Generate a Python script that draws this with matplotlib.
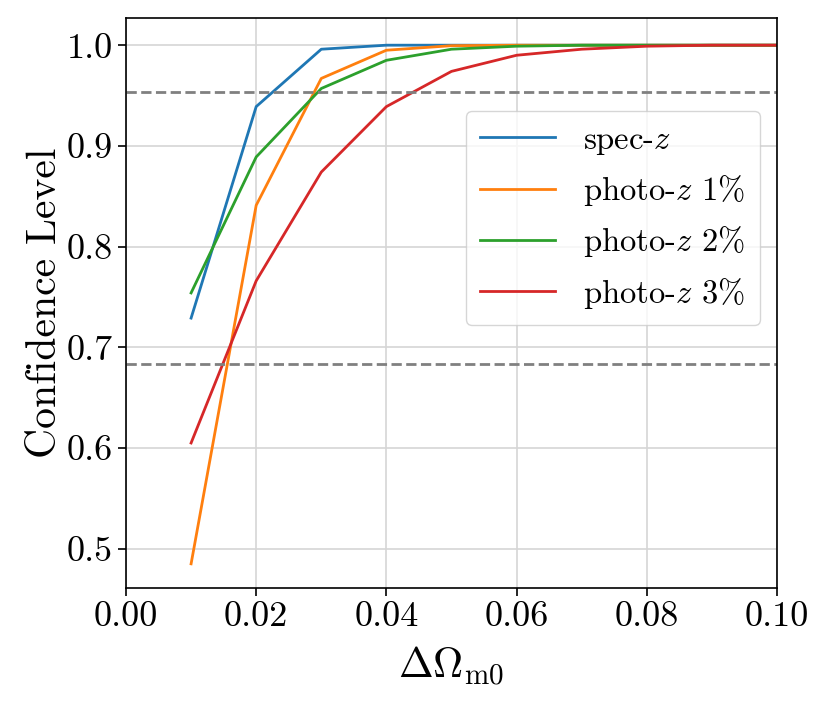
import matplotlib
matplotlib.use("Agg")
import matplotlib.pyplot as plt
import numpy as np

plt.rcParams['font.family'] = 'serif'
plt.rcParams['font.serif'] = ['cmr10']
plt.rcParams['mathtext.fontset'] = 'cm'
plt.rcParams['axes.formatter.use_mathtext'] = True
plt.rcParams['axes.unicode_minus'] = False

delta_om = [0.01, 0.02, 0.03, 0.04, 0.05, 0.06, 0.07, 0.08, 0.09, 0.10]
spec_z = [0.729, 0.939, 0.996, 1.0, 1.0, 1.0, 1.0, 1.0, 1.0, 1.0]
photo_z1 = [0.485, 0.841, 0.967, 0.995, 0.9995, 1.0, 1.0, 1.0, 1.0, 1.0]
photo_z2 = [0.754, 0.889, 0.957, 0.985, 0.996, 0.999, 1.0, 1.0, 1.0, 1.0]
photo_z3 = [0.605, 0.766, 0.874, 0.939, 0.974, 0.990, 0.996, 0.999, 1.0, 1.0]
labels = [r'spec-$z$', r'photo-$z$ 1%', r'photo-$z$ 2%', r'photo-$z$ 3%']
sigma_levels = [0.954, 0.683]

fig = plt.figure(figsize=(8.3, 7.03), dpi=100)
ax = fig.add_axes([0.1518, 0.1636, 0.7843, 0.8108])

for ys, lab, c in zip([spec_z, photo_z1, photo_z2, photo_z3], labels,
                      ['#1f77b4', '#ff7f0e', '#2ca02c', '#d62728']):
    ax.plot(delta_om, ys, color=c, lw=2, label=lab)

for s in sigma_levels:
    ax.axhline(s, color='gray', ls='--', lw=2)

ax.set_xlim(0, 0.10)
ax.set_ylim(0.461, 1.027)
ax.set_xticks(np.arange(0, 0.101, 0.02))
ax.set_yticks([0.5, 0.6, 0.7, 0.8, 0.9, 1.0])
ax.set_xticklabels(['0.00', '0.02', '0.04', '0.06', '0.08', '0.10'])
ax.set_yticklabels(['0.5', '0.6', '0.7', '0.8', '0.9', '1.0'])
ax.tick_params(labelsize=26, length=6, width=1.2)
ax.grid(True, color='#d5d5d5', lw=1.2)
ax.set_axisbelow(True)
for sp in ax.spines.values():
    sp.set_linewidth(1.2)

ax.set_xlabel(r'$\Delta\Omega_{\rm m0}$', fontsize=30, labelpad=9)
ax.set_ylabel('Confidence Level', fontsize=30, labelpad=2)

ax.legend(loc='upper right', bbox_to_anchor=(0.974, 0.837), borderaxespad=0,
          fontsize=23.5, handlelength=2.3, handletextpad=0.85, borderpad=0.45,
          framealpha=0.8, edgecolor='#cccccc')

fig.savefig('out.png', dpi=100)
